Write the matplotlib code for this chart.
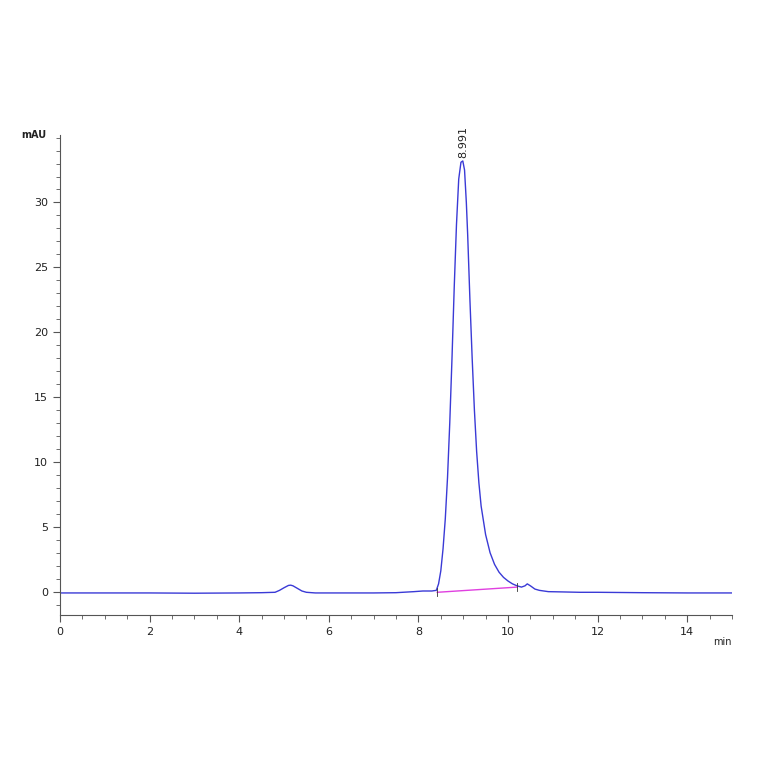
import matplotlib
matplotlib.use("Agg")
import matplotlib.pyplot as plt
from matplotlib.ticker import MultipleLocator

time = [0,1,2,3,4,4.5,4.8,4.9,5.0,5.1,5.15,5.2,5.3,5.4,5.5,5.7,6,7,7.5,7.9,8.1,8.3,8.4,8.45,8.5,8.55,8.6,8.65,8.7,8.75,8.8,8.85,8.9,8.95,8.991,9.03,9.07,9.1,9.15,9.2,9.25,9.3,9.35,9.4,9.5,9.6,9.7,9.8,9.9,10.0,10.1,10.2,10.3,10.38,10.43,10.5,10.6,10.7,10.9,11.2,11.6,12,13,14,15]
signal = [-0.1,-0.1,-0.1,-0.12,-0.1,-0.08,-0.05,0.1,0.3,0.48,0.5,0.45,0.25,0.05,-0.05,-0.1,-0.1,-0.1,-0.08,0.0,0.05,0.05,0.1,0.6,1.6,3.3,5.6,8.8,13.0,18.0,23.5,28.3,31.8,33.1,33.2,32.5,30.0,27.5,22.5,18.0,14.0,10.8,8.4,6.6,4.4,3.0,2.1,1.5,1.1,0.82,0.6,0.45,0.35,0.45,0.6,0.45,0.2,0.1,0.0,-0.02,-0.05,-0.05,-0.08,-0.1,-0.1]
peak_label = "8.991"
baseline_t = [8.42, 10.2]
baseline_v = [-0.05, 0.35]

fig = plt.figure(figsize=(7.64,7.64), dpi=100)
ax = fig.add_axes([60/764, 1-615/764, (732-60)/764, (615-135)/764])
ax.plot(time, signal, color='#3a3ad6', lw=1.0)
ax.plot(baseline_t, baseline_v, color='#e040e0', lw=1.0)
for t, v in zip(baseline_t, baseline_v):
    ax.plot([t, t], [v-0.3, v+0.3], color='#333333', lw=0.6)
ax.text(8.991, 33.4, peak_label, rotation=90, ha='center', va='bottom', fontsize=8, color='#222222')
ax.set_xlim(0, 15)
ax.set_ylim(-1.8, 35.2)
ax.xaxis.set_minor_locator(MultipleLocator(0.5))
ax.yaxis.set_minor_locator(MultipleLocator(1))
ax.set_xticks([0,2,4,6,8,10,12,14])
ax.set_yticks([0,5,10,15,20,25,30])
for s in ['top','right']:
    ax.spines[s].set_visible(False)
for s in ['left','bottom']:
    ax.spines[s].set_color('#555555')
ax.tick_params(which='both', colors='#555555', labelcolor='#222222', labelsize=8)
ax.tick_params(which='major', length=5)
ax.tick_params(which='minor', length=3)
ax.text(-0.02, 1.0, 'mAU', transform=ax.transAxes, ha='right', va='center', fontsize=7, fontweight='bold', color='#222222')
ax.text(1.0, -0.045, 'min', transform=ax.transAxes, ha='right', va='top', fontsize=7, color='#222222')
fig.savefig('out.png', dpi=100)
